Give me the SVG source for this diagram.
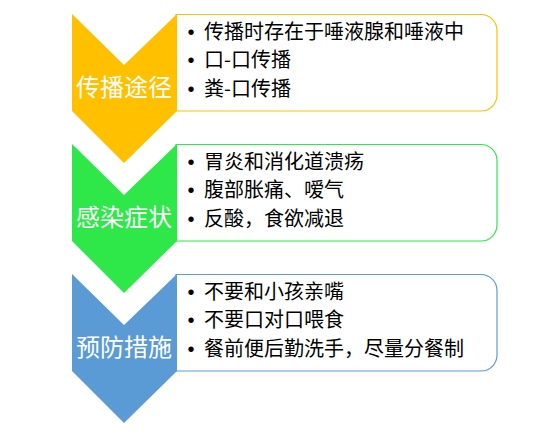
<svg xmlns="http://www.w3.org/2000/svg" width="548" height="440" viewBox="0 0 548 440">
<style>
.lbl{font-family:"Noto Sans CJK SC","Noto Sans",sans-serif;font-size:24px;fill:#fff;text-anchor:middle}
.itm{font-family:"Noto Sans CJK SC","Noto Sans",sans-serif;font-size:20px;fill:#000}
.bul{font-family:"Liberation Sans",sans-serif;font-size:20px;fill:#000;text-anchor:middle}
.box{fill:#fff;stroke-width:1.2}
</style>
<rect width="548" height="440" fill="#fff"/>
<g id="node1">
<path class="box" stroke="#FFC000" d="M176,14.5 H481 A16,16 0 0 1 497,30.5 V95 A16,16 0 0 1 481,111 H176 Z"/>
<polygon fill="#FFC000" points="72,14 124,65 177,14 177,111 124,163 72,111"/>
<text class="lbl" x="124" y="96">传播途径</text>
<text class="bul" x="191" y="39">•</text><text class="itm" x="204" y="39">传播时存在于唾液腺和唾液中</text>
<text class="bul" x="191" y="67">•</text><text class="itm" x="204" y="67">口-口传播</text>
<text class="bul" x="191" y="96">•</text><text class="itm" x="204" y="96">粪-口传播</text>
</g>
<g id="node2">
<path class="box" stroke="#2EE84A" d="M176,144.5 H481 A16,16 0 0 1 497,160.5 V225 A16,16 0 0 1 481,241 H176 Z"/>
<polygon fill="#2EE84A" points="72,144 124,195 177,144 177,241 124,293 72,241"/>
<text class="lbl" x="124" y="226">感染症状</text>
<text class="bul" x="191" y="169">•</text><text class="itm" x="204" y="169">胃炎和消化道溃疡</text>
<text class="bul" x="191" y="197">•</text><text class="itm" x="204" y="197">腹部胀痛、嗳气</text>
<text class="bul" x="191" y="226">•</text><text class="itm" x="204" y="226">反酸，食欲减退</text>
</g>
<g id="node3">
<path class="box" stroke="#5B9BD5" d="M176,274.5 H481 A16,16 0 0 1 497,290.5 V355 A16,16 0 0 1 481,371 H176 Z"/>
<polygon fill="#5B9BD5" points="72,274 124,325 177,274 177,371 124,423 72,371"/>
<text class="lbl" x="124" y="356">预防措施</text>
<text class="bul" x="191" y="299">•</text><text class="itm" x="204" y="299">不要和小孩亲嘴</text>
<text class="bul" x="191" y="327">•</text><text class="itm" x="204" y="327">不要口对口喂食</text>
<text class="bul" x="191" y="356">•</text><text class="itm" x="204" y="356">餐前便后勤洗手，尽量分餐制</text>
</g>
<g id="connectors"></g>
</svg>
